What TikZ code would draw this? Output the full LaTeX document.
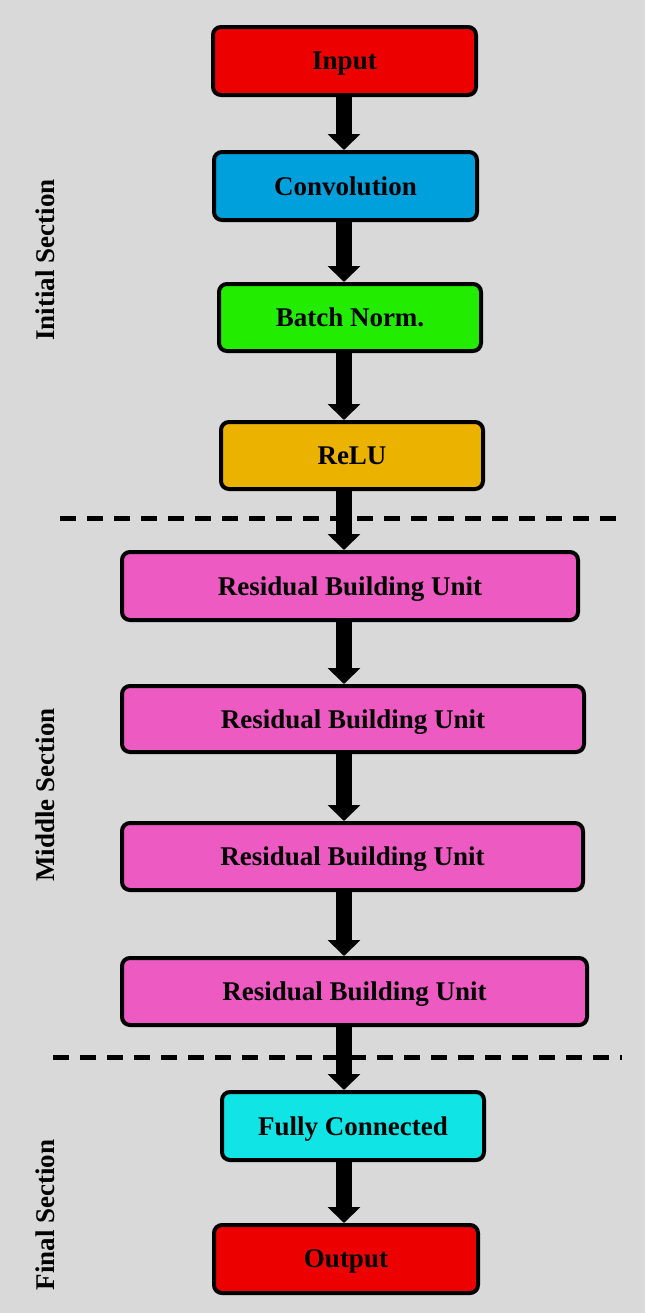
\documentclass[tikz,border=0pt]{standalone}
\usepackage{fontspec}
\setmainfont{Liberation Serif}
\usetikzlibrary{positioning}
\usetikzlibrary{arrows.meta}
\definecolor{bggray}{RGB}{217,217,217}
\definecolor{inred}{RGB}{236,0,0}
\definecolor{convblue}{RGB}{0,160,220}
\definecolor{bngreen}{RGB}{34,236,0}
\definecolor{reluorange}{RGB}{236,178,0}
\definecolor{rbupink}{RGB}{236,90,194}
\definecolor{fccyan}{RGB}{17,228,228}

\begin{document}
\begin{tikzpicture}[x=0.5pt, y=-0.5pt, >={Triangle[width=16pt,length=8pt]},
blk/.style={draw, line width=2pt, rounded corners=4pt, minimum height=34pt, inner sep=0pt, text depth=0pt, fill=#1},
arr/.style={->, line width=8pt},
sep/.style={line width=2.5pt, dash pattern=on 8pt off 5.5pt},
sec/.style={rotate=90}]
\fill[bggray] (0,0) rectangle (645,1313);
\begin{normalsize}
\fontsize{13.5}{16}\selectfont\bfseries

% initial section
\node [blk=inred, minimum width=131.5pt] (in) at (344.5,61) {Input};
\node [blk=convblue, minimum width=131.5pt] (conv) at (345.5,186) {Convolution};
\node [blk=bngreen, minimum width=131pt, minimum height=33.5pt] (bn) at (350,317.5) {Batch Norm.};
\node [blk=reluorange, minimum width=131pt, minimum height=33.5pt] (relu) at (352,455.5) {ReLU};

% middle section
\node [blk=rbupink, minimum width=228pt] (rbua) at (350,586) {Residual Building Unit};
\node [blk=rbupink, minimum width=231pt, minimum height=33pt] (rbub) at (353,719) {Residual Building Unit};
\node [blk=rbupink, minimum width=230.5pt, minimum height=33.5pt] (rbuc) at (352.5,856.5) {Residual Building Unit};
\node [blk=rbupink, minimum width=232.5pt, minimum height=33.5pt] (rbud) at (354.5,991.5) {Residual Building Unit};

% final section
\node [blk=fccyan, minimum width=131pt] (fc) at (353,1126) {Fully Connected};
\node [blk=inred, minimum width=132pt] (out) at (346,1259) {Output};

% section labels
\node [sec] (initsec) at (45,260) {Initial Section};
\node [sec] (midsec) at (45,795) {Middle Section};
\node [sec] (finsec) at (45,1215) {Final Section};

% dashed separators
\coordinate (dal) at (60,518);
\coordinate (dar) at (617,518);
\coordinate (dbl) at (53,1057);
\coordinate (dbr) at (622,1057);
\draw [sep] (dal) -- (dar);
\draw [sep] (dbl) -- (dbr);

% arrows
\coordinate (axis) at (344,0);
\draw [arr] (axis |- in.south) -- (axis |- conv.north);
\draw [arr] (axis |- conv.south) -- (axis |- bn.north);
\draw [arr] (axis |- bn.south) -- (axis |- relu.north);
\draw [arr] (axis |- relu.south) -- (axis |- rbua.north);
\draw [arr] (axis |- rbua.south) -- (axis |- rbub.north);
\draw [arr] (axis |- rbub.south) -- (axis |- rbuc.north);
\draw [arr] (axis |- rbuc.south) -- (axis |- rbud.north);
\draw [arr] (axis |- rbud.south) -- (axis |- fc.north);
\draw [arr] (axis |- fc.south) -- (axis |- out.north);

\end{normalsize}
\end{tikzpicture}
\end{document}
